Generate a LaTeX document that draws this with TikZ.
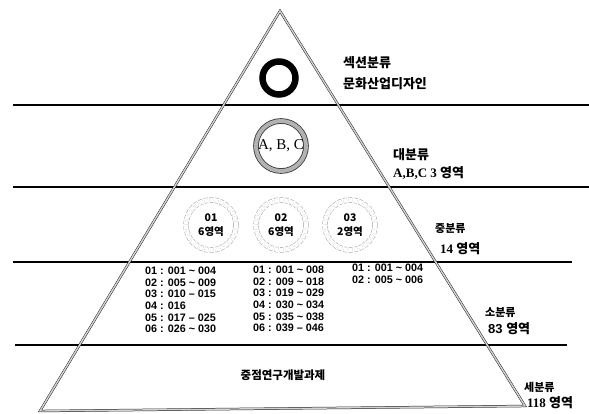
\documentclass[tikz,border=0pt]{standalone}
\usepackage{fontspec}
\setmainfont{Liberation Serif}
\setsansfont{Liberation Sans}
\newfontfamily\kr{Noto Sans CJK KR}
\begin{document}
\begin{tikzpicture}[x=1pt,y=-1pt,
    lbl/.style={anchor=west,inner sep=0pt,font=\kr\bfseries\fontsize{13}{15}\selectfont},
    sublbl/.style={anchor=west,inner sep=0pt,font=\kr\bfseries\fontsize{11}{13}\selectfont},
    rows/.style={anchor=north west,inner sep=0pt,align=left,font=\sffamily\bfseries\fontsize{10.8}{11.6}\selectfont},
    band/.style={line width=1.3pt},
    midring/.style={circle,draw=gray!75,dash pattern=on 3.5pt off 1.8pt,line width=0.5pt,double,double distance=4.4pt,
        minimum size=50pt,inner sep=0pt,align=center,font=\kr\bfseries\fontsize{10.5}{14}\selectfont}]

    \useasboundingbox (0,0) rectangle (589,413);

    %%bands
    \draw[band] (13,105) to (589,105);
    \draw[band] (13,187) to (589,187);
    \draw[band] (13,262) to (572,262);
    \draw[band] (15,345) to (567,345);

    %%pyramid
    \draw[draw=black!85,line width=0.5pt,double=gray!35,double distance=1.4pt]
        (280,11) to (525,406) to (40,411) to cycle;

    %%section
    \node[circle,draw,line width=6.5pt,minimum size=33pt,inner sep=0pt] (sect) at(279,78){};
    \node[lbl] (sectA) at(343,63){섹션분류};
    \node[lbl] (sectB) at(343,84){문화산업디자인};

    %%large
    \node[circle,draw=black!80,line width=0.8pt,double=gray!60,double distance=4pt,
        minimum size=50pt,inner sep=0pt,font=\rmfamily\fontsize{15}{17}\selectfont] (large) at(281,146){A, B, C};
    \node[lbl] (largeA) at(393,155){대분류};
    \node[lbl] (largeB) at(393,173){\rmfamily\bfseries A,B,C 3 {\kr 영역}};

    %%middle
    \node[midring] (mid1) at(211,225){01\\6영역};
    \node[midring] (mid2) at(281,225){02\\6영역};
    \node[midring] (mid3) at(350,225){03\\2영역};
    \node[sublbl] (midA) at(435,229){중분류};
    \node[lbl] (midB) at(440,249){\rmfamily\bfseries 14 {\kr 영역}};

    %%small
    \node[rows] (small1) at(145,267){01 : 001 \char`\~{} 004\\02 : 005 \char`\~{} 009\\03 : 010 -- 015\\04 : 016\\05 : 017 -- 025\\06 : 026 \char`\~{} 030};
    \node[rows] (small2) at(253,266){01 : 001 \char`\~{} 008\\02 : 009 \char`\~{} 018\\03 : 019 \char`\~{} 029\\04 : 030 \char`\~{} 034\\05 : 035 \char`\~{} 038\\06 : 039 -- 046};
    \node[rows] (small3) at(352,264){01 : 001 \char`\~{} 004\\02 : 005 \char`\~{} 006};
    \node[sublbl] (smallA) at(485,313){소분류};
    \node[lbl] (smallB) at(488,329){\sffamily 83 {\kr\bfseries 영역}};

    %%detail
    \node[inner sep=0pt,font=\kr\bfseries\fontsize{11.5}{13}\selectfont] (detail) at(283,375){중점연구개발과제};
    \node[sublbl] (detA) at(524,387){세분류};
    \node[lbl] (detB) at(527,403){\rmfamily 118 {\kr\bfseries 영역}};
\end{tikzpicture}
\end{document}
